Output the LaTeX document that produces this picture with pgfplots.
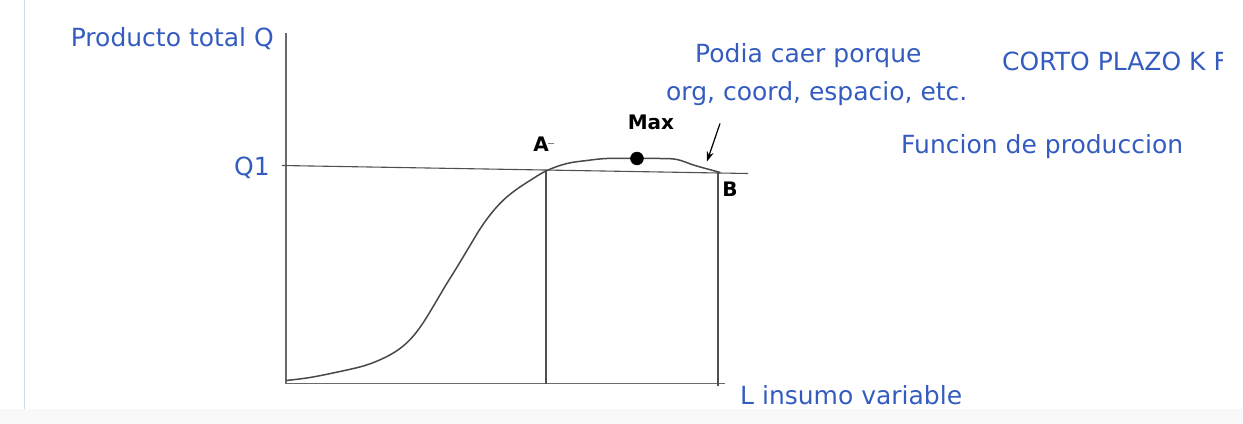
\documentclass[border=0pt]{standalone}
\usepackage{pgfplots}
\pgfplotsset{compat=1.18}
\usetikzlibrary{arrows.meta}
\usepackage{fontspec}
\setmainfont{DejaVu Sans}
\definecolor{txtblue}{RGB}{52,92,192}
\definecolor{ln}{RGB}{80,80,80}
\newcommand\bt{\fontsize{25pt}{30pt}\selectfont}
\newcommand\bk{\fontsize{20pt}{24pt}\selectfont\bfseries}
\begin{document}
\begin{tikzpicture}
\begin{axis}[
  scale only axis, width=439pt, height=350pt,
  xmin=286, xmax=725, ymin=40, ymax=390,
  axis lines=left,
  axis line style={-, draw=ln!85, line width=1.5pt},
  xtick=\empty, ytick=\empty,
  clip=false,
  xlabel={L insumo variable},
  ylabel={Producto total Q},
  every axis x label/.style={at={(axis cs:740,19)}, anchor=base west, inner sep=0pt, font=\bt, text=txtblue},
  every axis y label/.style={at={(axis cs:274,377)}, anchor=base east, inner sep=0pt, font=\bt, text=txtblue},
]
% page frame
\path (axis cs:0,0) rectangle (axis cs:1243,423);
\fill[gray!5] (axis cs:0,0) rectangle (axis cs:1243,15);
\draw[draw={rgb,255:red,205;green,218;blue,240}, line width=1pt] (axis cs:25,15) -- (axis cs:25,423);

% Q1 level line
\addplot[ln, line width=1.1pt] coordinates {(282,258) (748,250)};
% verticals at A and B
\addplot[ln, line width=1.1pt] coordinates {(546,40) (546,253)};
\addplot[ln, line width=1.1pt] coordinates {(718,38) (718,251)};

% total product curve
\addplot[ln!90!black, line width=1.5pt, smooth, tension=0.6] coordinates {
(286,43) (310,46) (340,52) (365,58) (385,66) (400,75) (412,86) (422,99)
(432,115) (445,137) (458,158) (470,178) (481,196) (492,211) (503,223)
(515,233) (530,243) (547,253) (567,260) (587,263) (607,265)
(637,265) (660,265) (677,264) (695,258) (713,253) (720,251)};

% Max point
\addplot[only marks, mark=*, mark size=6.5pt, black] coordinates {(637,265)};

% arrow
\addplot[black, line width=1.2pt, -{Stealth[length=10pt,width=7pt]}] coordinates {(720,300) (707,262)};
\addplot[gray, line width=0.8pt] coordinates {(548,280) (554,280)};

% labels
\node[anchor=base east, inner sep=0pt, font=\bt, text=txtblue] at (axis cs:270,248) {Q1};
\node[font=\bk, inner sep=0pt] at (axis cs:541,279) {A};
\node[font=\bk, inner sep=0pt] at (axis cs:651,301) {Max};
\node[font=\bk, inner sep=0pt] at (axis cs:730,234.5) {B};

\node[anchor=base west, inner sep=0pt, font=\bt, text=txtblue] at (axis cs:695,361) {Podia caer porque};
\node[anchor=base west, inner sep=0pt, font=\bt, text=txtblue] at (axis cs:666,322.5) {org, coord, espacio, etc.};
\node[anchor=base west, inner sep=0pt, font=\bt, text=txtblue] at (axis cs:901,270) {Funcion de produccion};
\begin{scope}
\clip (axis cs:990,330) rectangle (axis cs:1222,390);
\node[anchor=base west, inner sep=0pt, font=\bt, text=txtblue] at (axis cs:1002,353) {CORTO PLAZO K F};
\end{scope}
\end{axis}
\end{tikzpicture}
\end{document}
